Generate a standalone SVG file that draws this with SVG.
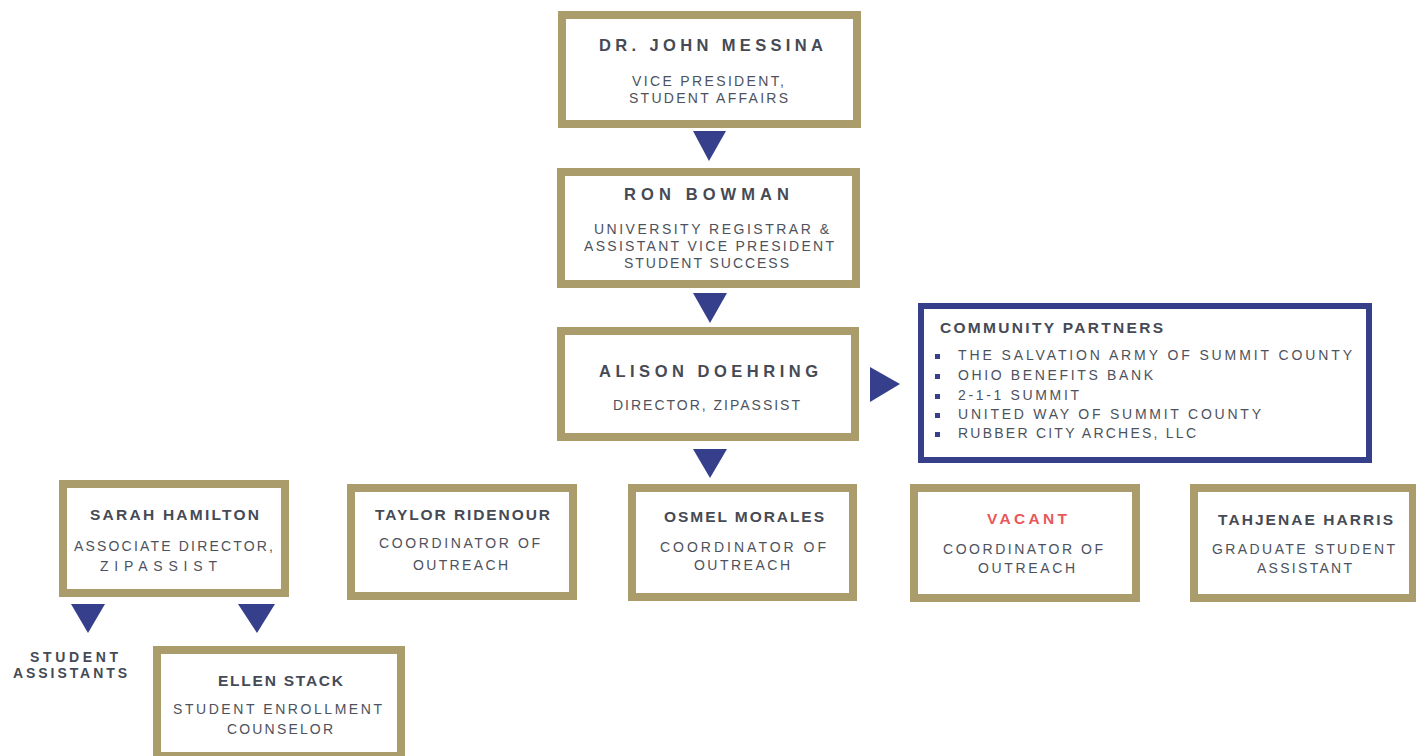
<svg xmlns="http://www.w3.org/2000/svg" width="1416" height="756" viewBox="0 0 1416 756">
<style>
.box{fill:#fff;stroke:#ab9c6c;stroke-width:8}
.cbox{fill:#fff;stroke:#36408a;stroke-width:6}
.t{font-family:"Liberation Sans",Arial,sans-serif;font-weight:bold;font-size:16.5px;fill:#454a55}
.b{font-size:15.5px}
.s{font-family:"Liberation Sans",Arial,sans-serif;font-size:14px;fill:#4d525d}
.red{fill:#e8585a}
.arr{fill:#363f8c}
</style>
<rect width="1416" height="756" fill="#fff"/>
<g id="connectors">
<polygon class="arr" points="693,131 726,131 709,161"/>
<polygon class="arr" points="693,293 727,293 710,323"/>
<polygon class="arr" points="693,449 727,449 710,478"/>
<polygon class="arr" points="870,367 870,402 900,384"/>
<polygon class="arr" points="71,604 105,604 88,633"/>
<polygon class="arr" points="238,604 275,604 257,633"/>
</g>
<g id="messina">
<rect class="box" x="562" y="15" width="295" height="109"/>
<text class="t" x="599" y="51" textLength="224" lengthAdjust="spacing">DR. JOHN MESSINA</text>
<text class="s" x="632" y="86" textLength="152" lengthAdjust="spacing">VICE PRESIDENT,</text>
<text class="s" x="629" y="103" textLength="159" lengthAdjust="spacing">STUDENT AFFAIRS</text>
</g>
<g id="bowman">
<rect class="box" x="561" y="172" width="295" height="112"/>
<text class="t" x="624" y="200" textLength="165" lengthAdjust="spacing">RON BOWMAN</text>
<text class="s" x="594" y="234" textLength="235" lengthAdjust="spacing">UNIVERSITY REGISTRAR &amp;</text>
<text class="s" x="584" y="251" textLength="250" lengthAdjust="spacing">ASSISTANT VICE PRESIDENT</text>
<text class="s" x="624" y="268" textLength="165" lengthAdjust="spacing">STUDENT SUCCESS</text>
</g>
<g id="doehring">
<rect class="box" x="561" y="331" width="294" height="106"/>
<text class="t" x="599" y="377" textLength="219" lengthAdjust="spacing">ALISON DOEHRING</text>
<text class="s" x="613" y="410" textLength="187" lengthAdjust="spacing">DIRECTOR, ZIPASSIST</text>
</g>
<g id="partners">
<rect class="cbox" x="921" y="306" width="448" height="154"/>
<text class="t b" x="940" y="333" textLength="223" lengthAdjust="spacing">COMMUNITY PARTNERS</text>
<g class="arr">
<rect x="935" y="354" width="5" height="5"/>
<rect x="935" y="374" width="5" height="5"/>
<rect x="935" y="394" width="5" height="5"/>
<rect x="935" y="413" width="5" height="5"/>
<rect x="935" y="432" width="5" height="5"/>
</g>
<text class="s" x="958" y="360" textLength="394" lengthAdjust="spacing">THE SALVATION ARMY OF SUMMIT COUNTY</text>
<text class="s" x="958" y="380" textLength="195" lengthAdjust="spacing">OHIO BENEFITS BANK</text>
<text class="s" x="958" y="400" textLength="121" lengthAdjust="spacing">2-1-1 SUMMIT</text>
<text class="s" x="958" y="419" textLength="303" lengthAdjust="spacing">UNITED WAY OF SUMMIT COUNTY</text>
<text class="s" x="958" y="438" textLength="238" lengthAdjust="spacing">RUBBER CITY ARCHES, LLC</text>
</g>
<g id="hamilton">
<rect class="box" x="63" y="484" width="222" height="109"/>
<text class="t b" x="90" y="520" textLength="169" lengthAdjust="spacing">SARAH HAMILTON</text>
<text class="s" x="74" y="551" textLength="199" lengthAdjust="spacing">ASSOCIATE DIRECTOR,</text>
<text class="s" x="100" y="571" textLength="117" lengthAdjust="spacing">ZIPASSIST</text>
</g>
<g id="ridenour">
<rect class="box" x="351" y="488" width="222" height="108"/>
<text class="t b" x="375" y="520" textLength="175" lengthAdjust="spacing">TAYLOR RIDENOUR</text>
<text class="s" x="379" y="548" textLength="161" lengthAdjust="spacing">COORDINATOR OF</text>
<text class="s" x="413" y="570" textLength="95" lengthAdjust="spacing">OUTREACH</text>
</g>
<g id="morales">
<rect class="box" x="632" y="488" width="221" height="109"/>
<text class="t b" x="664" y="522" textLength="160" lengthAdjust="spacing">OSMEL MORALES</text>
<text class="s" x="660" y="552" textLength="166" lengthAdjust="spacing">COORDINATOR OF</text>
<text class="s" x="694" y="570" textLength="96" lengthAdjust="spacing">OUTREACH</text>
</g>
<g id="vacant">
<rect class="box" x="914" y="488" width="222" height="110"/>
<text class="t b red" x="987" y="524" textLength="80" lengthAdjust="spacing">VACANT</text>
<text class="s" x="943" y="554" textLength="160" lengthAdjust="spacing">COORDINATOR OF</text>
<text class="s" x="978" y="573" textLength="97" lengthAdjust="spacing">OUTREACH</text>
</g>
<g id="harris">
<rect class="box" x="1194" y="488" width="219" height="110"/>
<text class="t b" x="1218" y="525" textLength="175" lengthAdjust="spacing">TAHJENAE HARRIS</text>
<text class="s" x="1212" y="554" textLength="183" lengthAdjust="spacing">GRADUATE STUDENT</text>
<text class="s" x="1257" y="573" textLength="95" lengthAdjust="spacing">ASSISTANT</text>
</g>
<g id="assistants">
<text class="t" x="30" y="662" font-size="14" style="font-size:14px" textLength="88" lengthAdjust="spacing">STUDENT</text>
<text class="t" x="13" y="678" style="font-size:14px" textLength="114" lengthAdjust="spacing">ASSISTANTS</text>
</g>
<g id="stack">
<rect class="box" x="157" y="650" width="244" height="106"/>
<text class="t b" x="218" y="686" textLength="125" lengthAdjust="spacing">ELLEN STACK</text>
<text class="s" x="173" y="714" textLength="209" lengthAdjust="spacing">STUDENT ENROLLMENT</text>
<text class="s" x="227" y="734" textLength="106" lengthAdjust="spacing">COUNSELOR</text>
</g>
</svg>
